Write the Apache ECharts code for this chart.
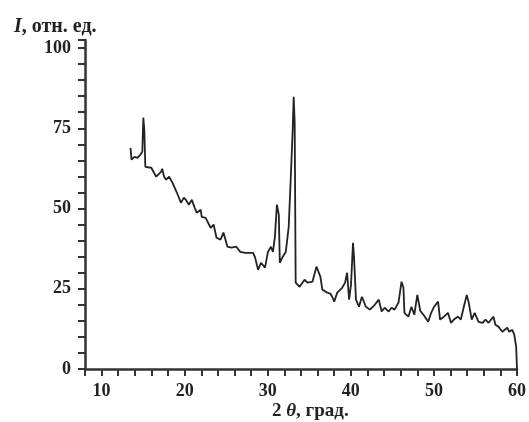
<!DOCTYPE html>
<html>
<head>
<meta charset="utf-8">
<script src="https://cdn.jsdelivr.net/npm/echarts@6/dist/echarts.min.js"></script>
<style>
html,body{margin:0;padding:0;background:#fff;}
#chart{width:529px;height:422px;}
</style>
</head>
<body>
<div id="chart"></div>
<script>
// 2θ (degrees)
var angle2theta = [13.48,13.60,13.95,14.31,14.67,14.90,15.02,15.14,15.26,15.50,15.98,16.10,16.57,16.69,17.17,17.29,17.52,17.76,18.12,18.36,18.48,19.07,19.55,19.90,20.14,20.50,20.86,21.21,21.45,21.93,22.05,22.52,22.64,23.12,23.48,23.83,24.31,24.67,25.14,25.62,26.21,26.69,27.29,27.88,28.24,28.48,28.83,29.19,29.67,30.02,30.38,30.62,30.86,31.10,31.33,31.45,31.81,32.17,32.52,32.76,33.00,33.12,33.24,33.36,33.83,34.43,34.79,35.38,35.86,36.00,36.33,36.57,36.81,37.17,37.52,37.76,38.00,38.36,38.95,39.31,39.55,39.79,40.02,40.26,40.38,40.62,40.98,41.33,41.57,41.81,42.29,42.88,43.36,43.71,44.07,44.55,44.90,45.26,45.74,46.10,46.33,46.45,46.93,47.29,47.64,48.00,48.36,48.83,49.31,49.67,50.02,50.50,50.74,51.21,51.69,52.05,52.40,52.88,53.24,53.60,53.95,54.19,54.55,54.90,55.38,55.86,56.21,56.57,57.17,57.40,57.76,58.24,58.83,59.07,59.43,59.67,59.90,60.00];
// I, relative units
var intensity = [68.9,65.2,66.1,65.8,66.8,67.7,78.3,74.5,63.0,63.6,62.7,62.1,59.9,59.6,61.5,62.4,59.9,59.0,59.9,59.6,58.3,54.9,51.8,53.4,52.7,51.2,52.7,50.2,48.7,49.6,47.4,47.1,46.5,44.0,45.0,40.9,40.3,42.5,38.1,37.8,38.1,36.5,36.2,36.2,36.2,34.7,30.9,33.1,31.6,36.5,38.1,36.5,41.2,51.2,48.1,33.1,35.0,36.5,44.3,59.0,74.5,84.8,76.7,26.9,25.6,27.8,26.9,27.2,31.9,32.0,28.8,24.7,24.3,23.8,23.5,22.5,21.0,23.8,25.3,26.9,30.0,21.6,26.3,39.3,35.0,21.6,19.4,22.5,23.1,19.4,18.5,20.0,21.6,17.9,19.1,17.9,19.1,18.5,20.7,27.2,25.3,17.5,16.3,19.4,16.9,23.1,18.1,16.6,14.7,17.5,19.4,21.0,15.4,16.3,17.5,14.4,15.4,16.3,15.4,19.4,23.1,20.7,15.4,17.5,14.7,14.4,15.4,14.4,16.3,13.8,13.2,11.6,12.9,11.6,12.2,10.7,6.9,0];

// tick labels
var xLabelValues = [10,20,30,40,50,60];
var yLabelValues = [0,25,50,75,100];

var xMin = 8, xMax = 60, xTickStep = 2;
var yMin = 0, yMax = 102.5, yTickStep = 5;

var seriesData = angle2theta.map(function(x,i){ return [x, intensity[i]]; });

var axisColor = '#333';
var fontFam = '"Liberation Serif", "DejaVu Serif", serif';
var labelStyle = {color:'#222', fontFamily:fontFam, fontWeight:'bold', fontSize:18};

var chart = echarts.init(document.getElementById('chart'), null, {renderer:'canvas'});
chart.setOption({
  animation:false,
  backgroundColor:'#fff',
  title:[
    {left:9, top:12, text:'{i|I}{n|, отн. ед.}',
     textStyle:{rich:{
       i:{fontFamily:fontFam, fontStyle:'italic', fontWeight:'bold', fontSize:20, color:'#222'},
       n:{fontFamily:fontFam, fontWeight:'bold', fontSize:20, color:'#222'}
     }}},
    {left:267, top:397, text:'{n|2 }{i|θ}{n|, град.}',
     textStyle:{rich:{
       i:{fontFamily:fontFam, fontStyle:'italic', fontWeight:'bold', fontSize:19, color:'#222'},
       n:{fontFamily:fontFam, fontWeight:'bold', fontSize:19, color:'#222'}
     }}}
  ],
  grid:[{left:85, right:7, top:40, bottom:53}],
  xAxis:[
    {type:'value', min:xMin, max:xMax, interval:xTickStep, position:'bottom',
     axisLine:{show:true, onZero:false, lineStyle:{color:axisColor, width:2.5}},
     axisTick:{show:true, inside:false, length:7, lineStyle:{color:axisColor, width:2}},
     axisLabel:Object.assign({show:true, margin:13,
       formatter:function(v){ return xLabelValues.indexOf(v) >= 0 ? String(v) : ''; }}, labelStyle),
     splitLine:{show:false}}
  ],
  yAxis:[
    {type:'value', min:yMin, max:yMax, interval:yTickStep, position:'left',
     axisLine:{show:true, onZero:false, lineStyle:{color:axisColor, width:2.5}},
     axisTick:{show:true, inside:false, length:7, lineStyle:{color:axisColor, width:2}},
     axisLabel:Object.assign({show:true, margin:14, customValues:yLabelValues}, labelStyle),
     splitLine:{show:false}}
  ],
  series:[
    {
      type:'line', data:seriesData,
      showSymbol:false, symbol:'none',
      lineStyle:{color:'#222', width:1.8},
      clip:false
    }
  ]
});
</script>
</body>
</html>
